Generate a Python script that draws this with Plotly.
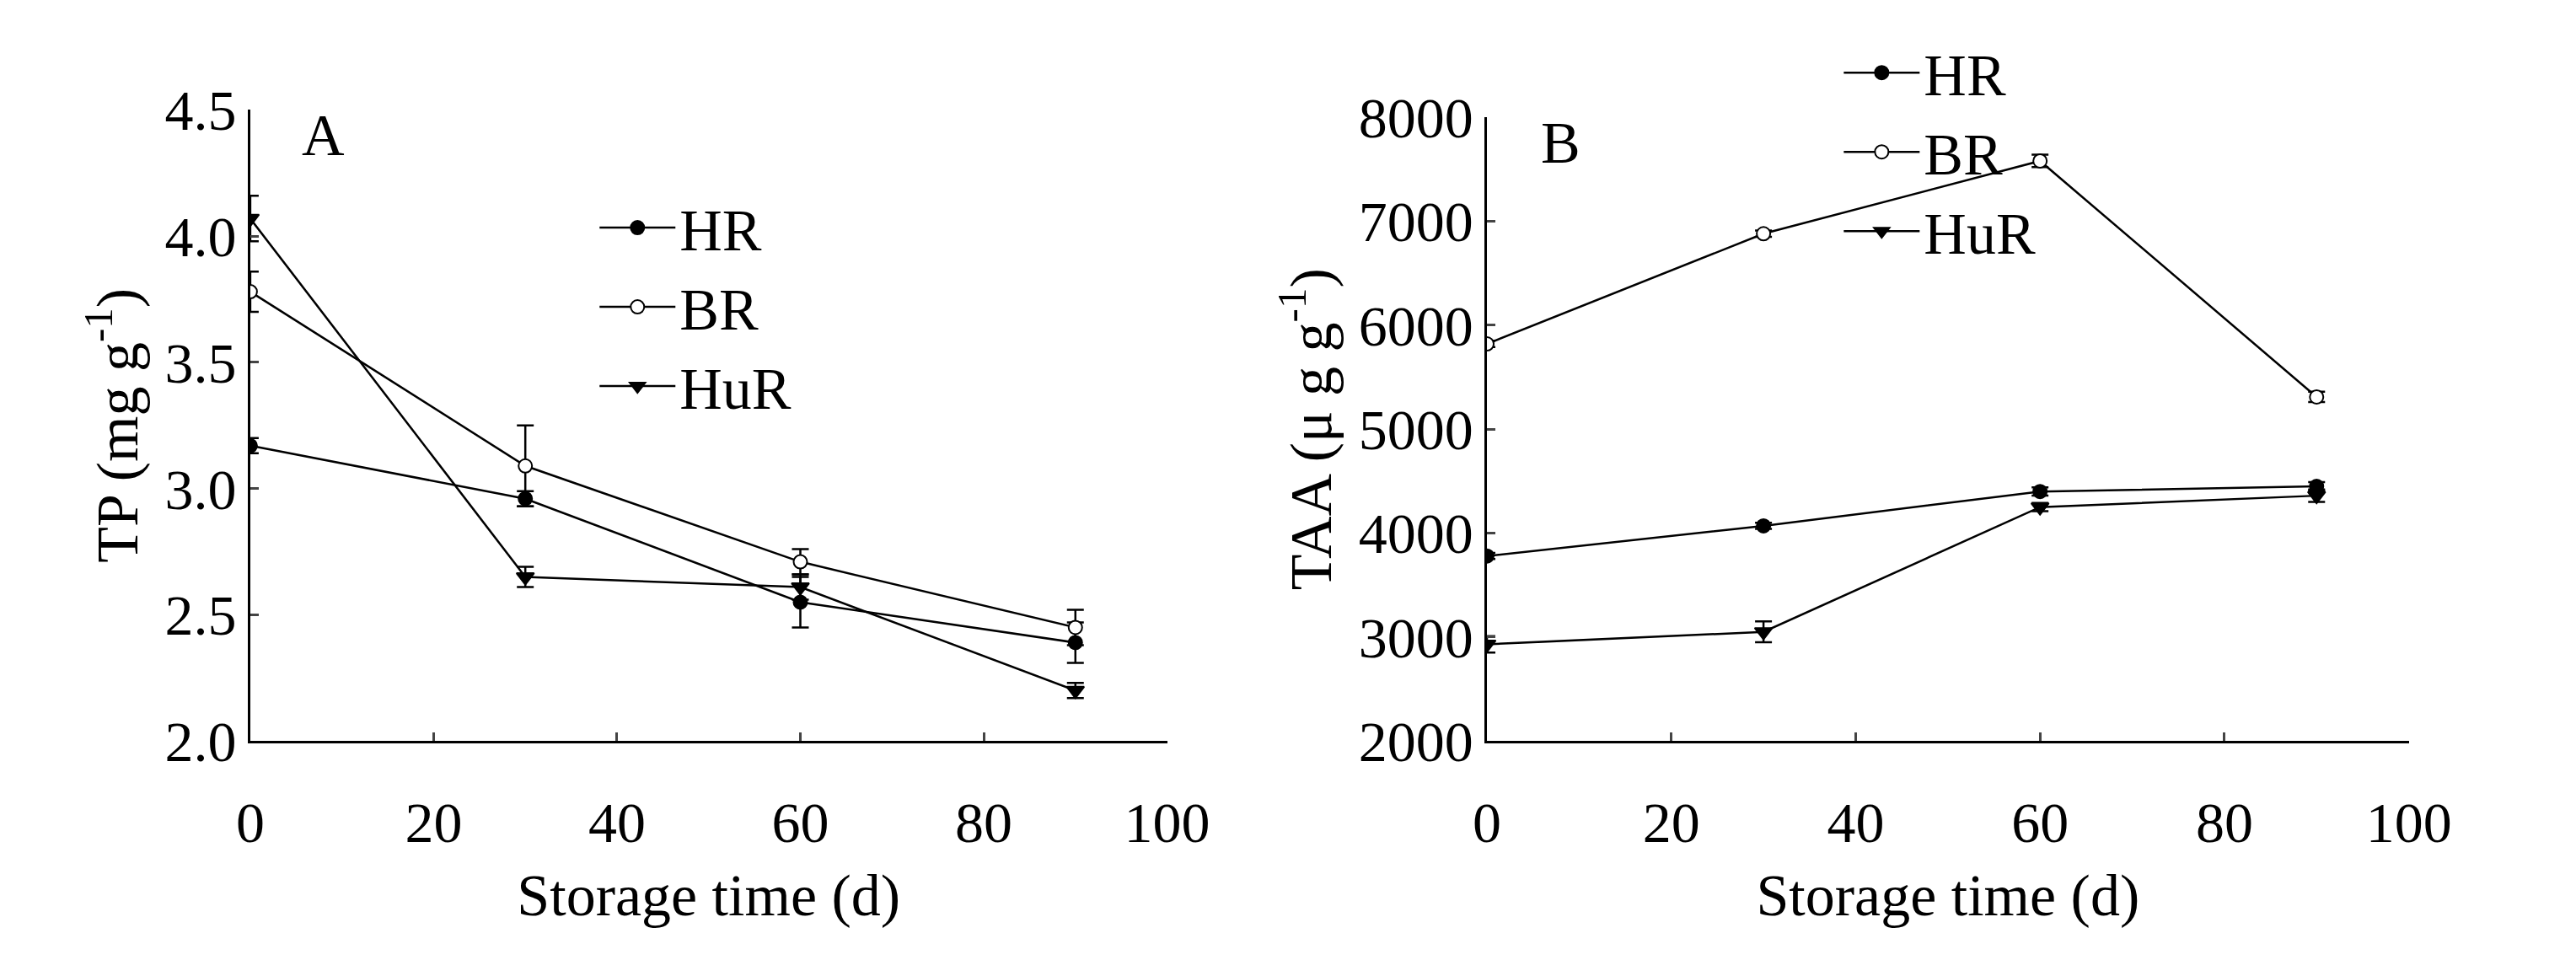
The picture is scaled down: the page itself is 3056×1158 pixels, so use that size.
import plotly.graph_objects as go
from plotly.subplots import make_subplots

days = [0, 30, 60, 90]

# panel A: TP (mg g-1)
tp_hr = [3.17, 2.96, 2.55, 2.39]
tp_hr_err = [0.03, 0.03, 0.10, 0.08]
tp_br = [3.78, 3.09, 2.71, 2.45]
tp_br_err = [0.08, 0.16, 0.05, 0.07]
tp_hur = [4.07, 2.65, 2.61, 2.20]
tp_hur_err = [0.09, 0.04, 0.05, 0.03]

# panel B: TAA (ug g-1)
taa_hr = [3780, 4070, 4400, 4450]
taa_hr_err = [30, 30, 40, 40]
taa_br = [5820, 6880, 7580, 5310]
taa_br_err = [30, 30, 60, 50]
taa_hur = [2930, 3050, 4250, 4360]
taa_hur_err = [80, 100, 40, 60]

FONT = "Liberation Serif"

fig = make_subplots(rows=1, cols=2)

series = [
    ("HR", "circle", "black"),
    ("BR", "circle", "white"),
    ("HuR", "triangle-down", "black"),
]
panels = [
    (1, "legend", [tp_hr, tp_br, tp_hur], [tp_hr_err, tp_br_err, tp_hur_err]),
    (2, "legend2", [taa_hr, taa_br, taa_hur], [taa_hr_err, taa_br_err, taa_hur_err]),
]
for col, leg, ys, errs in panels:
    for (name, sym, fill), y, e in zip(series, ys, errs):
        fig.add_trace(go.Scatter(
            x=days, y=y, name=name, mode="lines+markers", legend=leg,
            line=dict(color="black", width=2.5),
            marker=dict(symbol=sym, size=16 if sym == "circle" else 18, color=fill,
                        line=dict(color="black", width=2)),
            error_y=dict(type="data", array=e, color="black", thickness=2.5, width=10),
        ), row=1, col=col)

tick_font = dict(family=FONT, size=68, color="black")
title_font = dict(family=FONT, size=70, color="black")
for col in (1, 2):
    fig.update_xaxes(range=[0, 100], tickvals=[0, 20, 40, 60, 80, 100],
                     ticks="inside", ticklen=10, tickwidth=2.5, ticklabelstandoff=35,
                     showline=True, linecolor="black", linewidth=2.5, showgrid=False,
                     zeroline=False, tickfont=tick_font,
                     title=dict(text="Storage time (d)", font=title_font, standoff=25),
                     row=1, col=col)
fig.update_yaxes(range=[2.0, 4.5], tickvals=[2.0, 2.5, 3.0, 3.5, 4.0, 4.5], tickformat=".1f",
                 title=dict(text="TP (mg g<sup>-1</sup>)", font=title_font, standoff=10),
                 row=1, col=1)
fig.update_yaxes(range=[2000, 8000], tickvals=[2000, 3000, 4000, 5000, 6000, 7000, 8000],
                 title=dict(text="TAA (μ g g<sup>-1</sup>)", font=title_font, standoff=10),
                 row=1, col=2)
fig.update_yaxes(ticks="inside", ticklen=10, tickwidth=2.5, showline=True, linecolor="black",
                 linewidth=2.5, showgrid=False, zeroline=False, tickfont=tick_font)

legend_font = dict(family=FONT, size=70, color="black")
fig.update_layout(
    width=3056, height=1158, plot_bgcolor="white", paper_bgcolor="white",
    margin=dict(l=0, r=0, t=0, b=0),
    xaxis=dict(domain=[0.091, 0.455]), xaxis2=dict(domain=[0.582, 0.948]),
    yaxis=dict(domain=[0.229, 0.921]), yaxis2=dict(domain=[0.229, 0.913]),
    font=dict(family=FONT, color="black"),
    legend=dict(x=0.228, y=0.84, xanchor="left", yanchor="top", font=legend_font,
                bgcolor="rgba(0,0,0,0)", tracegroupgap=0, itemwidth=90),
    legend2=dict(x=0.722, y=1.01, xanchor="left", yanchor="top", font=legend_font,
                 bgcolor="rgba(0,0,0,0)", tracegroupgap=0, itemwidth=90),
    annotations=[
        dict(text="A", x=8, y=4.4, xref="x", yref="y", showarrow=False, font=legend_font),
        dict(text="B", x=8, y=7750, xref="x2", yref="y2", showarrow=False, font=legend_font),
    ],
)

fig.write_html("out.html")
